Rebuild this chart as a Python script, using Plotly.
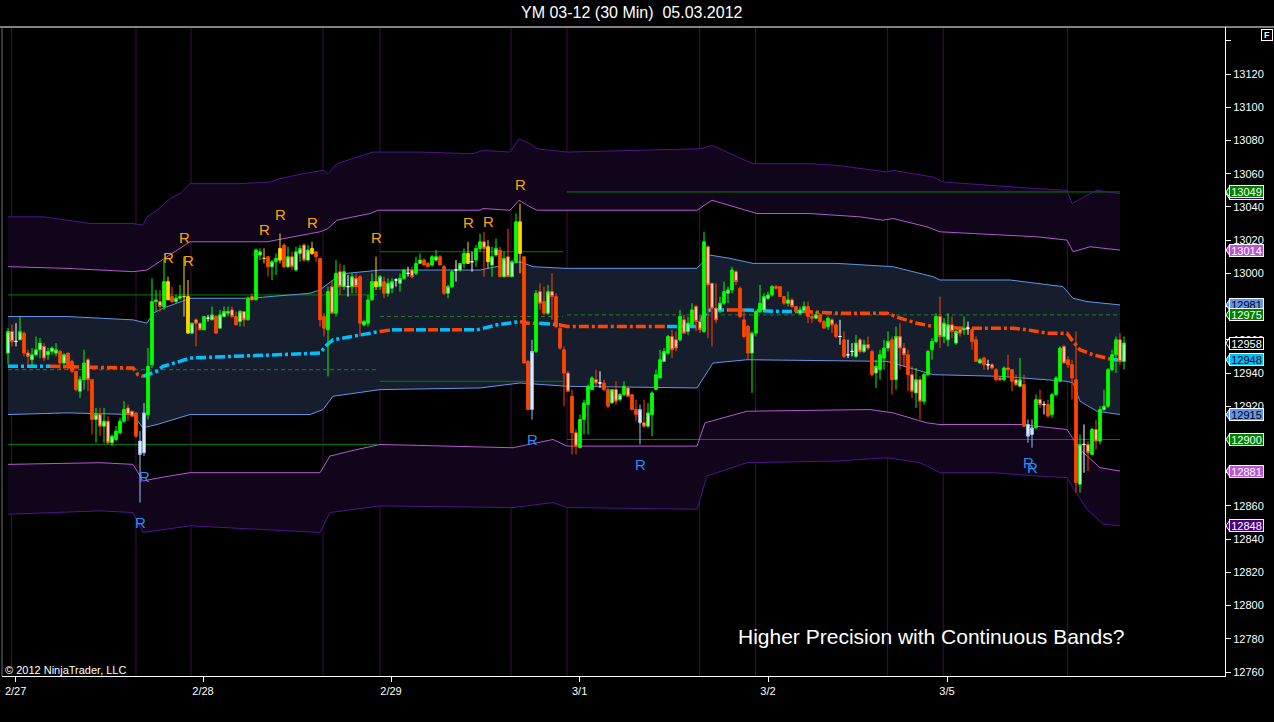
import plotly.graph_objects as go

# YM 03-12, 30 minute bars. Bar 0 is the last bar of 2/24, bar 279 the 15:00 bar of 3/5.
bar_open = [
    12952, 12965, 12959, 12960, 12964, 12952, 12948, 12951, 12954, 12956,
    12951, 12953, 12952, 12953, 12946, 12952, 12947, 12941, 12929, 12936,
    12948, 12936, 12912, 12915, 12908, 12911, 12898, 12900, 12904, 12911,
    12919, 12917, 12916, 12899, 12892, 12915, 12945, 12983, 12983, 12980,
    12995, 12986, 12983, 12985, 12986, 12986, 12964, 12972, 12970, 12966,
    12973, 12972, 12974, 12967, 12974, 12976, 12978, 12974, 12971, 12977,
    12972, 12986, 12984, 13011, 13009, 13010, 13004, 13007, 13008, 13017,
    13004, 13010, 13002, 13012, 13017, 13008, 13012, 13013, 13009, 12974,
    12966, 12992, 12976, 13001, 12992, 12992, 12992, 12997, 12998, 12969,
    12970, 12984, 12995, 12992, 12995, 12988, 12991, 12996, 12994, 12997,
    13000, 13002, 13000, 13006, 13008, 13006, 13005, 13008, 13010, 13004,
    12988, 12992, 13002, 13002, 13006, 13006, 13007, 13008, 13015, 13019,
    13016, 13005, 13011, 13014, 12998, 13010, 12998, 13007, 13031, 13010,
    12947, 12918, 12953, 12989, 12983, 12976, 12989, 12986, 12967, 12954,
    12940, 12926, 12904, 12895, 12912, 12921, 12930, 12936, 12934, 12934,
    12930, 12922, 12930, 12924, 12927, 12931, 12927, 12918, 12910, 12910,
    12908, 12915, 12930, 12937, 12947, 12952, 12962, 12960, 12960, 12972,
    12965, 12969, 12980, 12971, 12965, 13016, 12994, 12979, 12978, 12982,
    12988, 12990, 13001, 12991, 12972, 12968, 12952, 12964, 12977, 12978,
    12985, 12987, 12992, 12992, 12986, 12982, 12984, 12980, 12976, 12978,
    12980, 12974, 12973, 12975, 12971, 12968, 12972, 12969, 12962, 12960,
    12951, 12953, 12950, 12960, 12953, 12957, 12953, 12940, 12942, 12949,
    12955, 12960, 12936, 12962, 12955, 12951, 12939, 12928, 12936, 12923,
    12939, 12954, 12959, 12974, 12962, 12960, 12969, 12958, 12966, 12966,
    12967, 12966, 12960, 12946, 12949, 12945, 12945, 12942, 12937, 12936,
    12943, 12942, 12936, 12932, 12933, 12909, 12903, 12907, 12924, 12921,
    12921, 12915, 12927, 12935, 12956, 12948, 12945, 12936, 12873, 12897,
    12897, 12891, 12906, 12899, 12918, 12920, 12942, 12951, 12960, 12947,
]
bar_high = [
    12967, 12969, 12970, 12974, 12965, 12954, 12955, 12962, 12961, 12958,
    12955, 12956, 12958, 12954, 12952, 12952, 12948, 12941, 12938, 12954,
    12949, 12936, 12919, 12919, 12919, 12914, 12903, 12908, 12913, 12923,
    12921, 12917, 12916, 12905, 12922, 12955, 12997, 12990, 12990, 13008,
    12998, 12992, 12987, 12993, 13010, 12996, 12970, 12973, 12970, 12974,
    12975, 12980, 12975, 12978, 12980, 12980, 12980, 12977, 12978, 12977,
    12986, 12988, 13015, 13015, 13015, 13010, 13008, 13012, 13024, 13018,
    13016, 13013, 13016, 13017, 13018, 13017, 13019, 13013, 13009, 12976,
    12992, 12996, 13008, 13006, 13005, 12999, 13000, 13000, 12999, 12972,
    12987, 13000, 13010, 12999, 12998, 12997, 12997, 12997, 13000, 13002,
    13004, 13004, 13010, 13012, 13009, 13007, 13011, 13014, 13011, 13005,
    12993, 13002, 13008, 13006, 13015, 13019, 13013, 13017, 13024, 13025,
    13020, 13016, 13021, 13016, 13013, 13027, 13008, 13036, 13042, 13010,
    12948, 12960, 12990, 12994, 12992, 12993, 13000, 12988, 12970, 12956,
    12941, 12930, 12906, 12915, 12924, 12933, 12938, 12942, 12941, 12936,
    12931, 12930, 12935, 12928, 12935, 12932, 12927, 12924, 12921, 12924,
    12922, 12929, 12942, 12954, 12955, 12963, 12966, 12965, 12978, 12975,
    12974, 12982, 12981, 12975, 13025, 13017, 12994, 12994, 12986, 12995,
    12992, 13004, 13002, 12992, 12978, 12969, 12965, 12978, 12993, 12988,
    12989, 12993, 12993, 12992, 12986, 12989, 12985, 12980, 12980, 12983,
    12983, 12976, 12977, 12976, 12972, 12974, 12973, 12970, 12972, 12965,
    12960, 12958, 12963, 12961, 12960, 12962, 12954, 12948, 12954, 12960,
    12965, 12962, 12968, 12970, 12958, 12954, 12944, 12943, 12938, 12940,
    12954, 12961, 12976, 12986, 12973, 12976, 12974, 12966, 12968, 12974,
    12971, 12967, 12962, 12949, 12950, 12948, 12946, 12943, 12938, 12944,
    12951, 12942, 12939, 12949, 12939, 12912, 12912, 12927, 12930, 12923,
    12924, 12928, 12938, 12956, 12957, 12950, 12948, 12965, 12903, 12909,
    12899, 12907, 12912, 12920, 12930, 12943, 12954, 12962, 12964, 12962,
]
bar_low = [
    12945, 12956, 12956, 12960, 12950, 12945, 12944, 12950, 12949, 12947,
    12948, 12951, 12950, 12942, 12945, 12942, 12940, 12929, 12925, 12930,
    12929, 12903, 12898, 12902, 12898, 12897, 12896, 12899, 12903, 12910,
    12911, 12914, 12901, 12862, 12890, 12912, 12943, 12977, 12977, 12978,
    12984, 12982, 12982, 12984, 12974, 12964, 12964, 12956, 12966, 12966,
    12971, 12972, 12964, 12967, 12974, 12974, 12973, 12969, 12968, 12968,
    12972, 12984, 12984, 13008, 13006, 12998, 12996, 12999, 13006, 13003,
    13003, 13002, 13001, 13007, 13007, 13007, 13011, 13007, 12968, 12962,
    12938, 12976, 12974, 12987, 12990, 12986, 12988, 12988, 12962, 12968,
    12968, 12984, 12990, 12990, 12985, 12986, 12988, 12992, 12989, 12996,
    12998, 12997, 12999, 13006, 13005, 13004, 13004, 13007, 13005, 12987,
    12985, 12991, 12995, 13001, 13003, 13006, 13001, 13004, 13013, 12998,
    13003, 12998, 13010, 12998, 12998, 12998, 12998, 13006, 13000, 12946,
    12918, 12912, 12952, 12978, 12975, 12975, 12972, 12967, 12954, 12920,
    12929, 12891, 12891, 12895, 12903, 12903, 12930, 12932, 12931, 12929,
    12919, 12922, 12921, 12923, 12926, 12926, 12918, 12911, 12897, 12907,
    12907, 12902, 12930, 12937, 12947, 12951, 12949, 12953, 12959, 12964,
    12963, 12968, 12965, 12964, 12964, 12961, 12956, 12970, 12976, 12981,
    12982, 12988, 12993, 12973, 12961, 12948, 12928, 12962, 12976, 12977,
    12984, 12986, 12990, 12986, 12981, 12980, 12979, 12976, 12975, 12977,
    12970, 12970, 12973, 12970, 12967, 12966, 12964, 12961, 12957, 12949,
    12949, 12950, 12949, 12952, 12952, 12954, 12938, 12931, 12936, 12942,
    12953, 12927, 12930, 12942, 12944, 12929, 12925, 12919, 12912, 12921,
    12938, 12948, 12958, 12955, 12958, 12956, 12961, 12957, 12962, 12963,
    12963, 12954, 12947, 12946, 12942, 12942, 12942, 12935, 12935, 12935,
    12937, 12929, 12932, 12932, 12908, 12898, 12895, 12906, 12919, 12915,
    12914, 12913, 12926, 12935, 12946, 12943, 12924, 12868, 12868, 12880,
    12881, 12891, 12894, 12897, 12917, 12919, 12941, 12940, 12945, 12942,
]
bar_close = [
    12965, 12959, 12959, 12965, 12952, 12950, 12951, 12954, 12958, 12949,
    12953, 12955, 12954, 12946, 12951, 12943, 12941, 12930, 12936, 12946,
    12936, 12912, 12915, 12908, 12911, 12898, 12902, 12905, 12911, 12918,
    12915, 12914, 12902, 12891, 12916, 12944, 12983, 12984, 12980, 12995,
    12984, 12983, 12985, 12986, 12986, 12964, 12970, 12970, 12966, 12974,
    12973, 12975, 12964, 12975, 12977, 12977, 12974, 12969, 12977, 12972,
    12985, 12984, 13014, 13013, 13009, 13004, 13007, 13009, 13015, 13004,
    13010, 13004, 13013, 13015, 13008, 13014, 13015, 13010, 12972, 12967,
    12989, 12976, 13000, 12992, 13001, 12992, 12998, 12992, 12970, 12971,
    12984, 12995, 12992, 12998, 12988, 12994, 12995, 12996, 12997, 13002,
    13000, 12998, 13006, 13008, 13005, 13004, 13010, 13010, 13005, 12988,
    12992, 13001, 13002, 13006, 13012, 13012, 13007, 13015, 13019, 13015,
    13007, 13010, 13015, 12998, 13009, 12998, 13007, 13031, 13012, 12946,
    12918, 12953, 12988, 12982, 12976, 12989, 12986, 12968, 12955, 12940,
    12929, 12904, 12896, 12912, 12922, 12932, 12937, 12934, 12934, 12930,
    12920, 12930, 12923, 12927, 12932, 12926, 12918, 12915, 12918, 12908,
    12916, 12928, 12939, 12948, 12953, 12962, 12954, 12955, 12974, 12964,
    12970, 12978, 12971, 12966, 13019, 12993, 12979, 12972, 12982, 12989,
    12990, 13002, 12995, 12974, 12962, 12952, 12964, 12977, 12982, 12986,
    12987, 12992, 12991, 12986, 12982, 12984, 12980, 12977, 12978, 12980,
    12974, 12973, 12975, 12971, 12967, 12973, 12969, 12962, 12962, 12950,
    12951, 12953, 12958, 12953, 12957, 12955, 12939, 12944, 12951, 12955,
    12959, 12936, 12962, 12955, 12951, 12939, 12929, 12936, 12923, 12939,
    12953, 12959, 12974, 12962, 12970, 12969, 12965, 12965, 12964, 12967,
    12967, 12959, 12947, 12948, 12945, 12945, 12943, 12936, 12936, 12943,
    12942, 12935, 12933, 12936, 12908, 12902, 12907, 12924, 12921, 12921,
    12914, 12927, 12937, 12955, 12946, 12945, 12937, 12874, 12897, 12897,
    12892, 12906, 12899, 12918, 12920, 12942, 12951, 12960, 12947, 12958,
]

# bars flagged by the band indicator (drawn yellow / light blue with an "R")
signal_hi_bars = [40, 44, 45, 64, 68, 76, 92, 115, 120, 128]
signal_lo_bars = [33, 34, 131, 158, 255, 256]

# continuous deviation bands (vertices, bar index / price)
outer_hi_x = [0, 9, 20.5, 31.25, 33.75, 34.75, 37.25, 40.5, 43, 45.5, 58, 65.5, 68, 73.75,
              78.75, 80, 82.25, 87.25, 91.25, 103, 116.25, 118.75, 125.5, 127.75, 130.5,
              132.25, 139.75, 173, 176, 186.25, 200.5, 207.25, 219.75, 221.25, 231.25,
              233.75, 257.25, 264.75, 266, 269.75, 272.25, 278]
outer_hi = [13034, 13034, 13030, 13030, 13029, 13034, 13038, 13045, 13048, 13054, 13054,
            13055, 13057, 13060, 13062, 13060, 13066, 13070, 13073, 13073, 13072, 13074,
            13073, 13081, 13078, 13075, 13073, 13075, 13077, 13066, 13066, 13065, 13061,
            13062, 13058, 13055, 13051, 13050, 13042, 13047, 13050, 13048]
mid_hi_x = [0, 14.75, 31.25, 34.75, 39.75, 45.5, 64.75, 78, 80, 82.25, 90.5, 92.5, 118,
            118.75, 125.5, 127.75, 130.5, 132.25, 172.25, 176, 187.25, 200.5, 213, 218.75,
            221.25, 229.75, 233, 257.25, 264.75, 266.25, 270.5, 278]
mid_hi = [13004, 13003, 13001, 13002, 13010, 13019, 13019, 13025, 13027, 13032, 13036,
          13038, 13038, 13039, 13038, 13044, 13040, 13038, 13038, 13044, 13036, 13036,
          13034, 13032, 13033, 13028, 13025, 13022, 13020, 13013, 13016, 13014]
inner_hi_x = [0, 14.75, 31.25, 34.75, 36.25, 38.75, 45.5, 60.5, 75.5, 78, 81.25, 84.75, 93,
              118, 128, 131.25, 139.75, 172.25, 175.5, 180.5, 186.25, 207.25, 221.25,
              231.25, 233, 250.5, 263.75, 266.25, 269.75, 278]
inner_hi = [12974, 12974, 12972, 12970, 12976, 12979, 12985, 12985, 12988, 12990, 12996,
            13000, 13002, 13002, 13007, 13004, 13003, 13003, 13011, 13009, 13006, 13006,
            13004, 12998, 12996, 12996, 12992, 12985, 12983, 12981]
inner_lo_x = [0, 14.75, 31.25, 33.75, 37.25, 45.5, 75.5, 78.75, 81.25, 93, 118, 128, 139.75,
              172.25, 176.25, 184.75, 219.75, 231.25, 248, 264.75, 266.25, 268, 272.25, 278]
inner_lo = [12915, 12916, 12915, 12907, 12909, 12915, 12915, 12918, 12926, 12930, 12931,
            12934, 12932, 12931, 12946, 12948, 12947, 12939, 12938, 12935, 12934, 12923,
            12917, 12915]
mid_lo_x = [0, 23, 31.25, 33.75, 38, 45.5, 78, 80.5, 85.5, 93, 126.25, 136.25, 139.75,
            172.25, 174.25, 184.75, 215.5, 221.25, 229.75, 233, 253, 264.75, 268, 273, 278]
mid_lo = [12885, 12886, 12885, 12875, 12877, 12880, 12880, 12890, 12893, 12897, 12895,
          12900, 12896, 12896, 12910, 12917, 12918, 12916, 12910, 12909, 12909, 12906,
          12894, 12883, 12881]
outer_lo_x = [0, 23, 31.25, 33.75, 45.5, 78, 80.5, 93, 126.25, 136.25, 139.75, 172.25,
              174.75, 184.75, 207.25, 219.75, 228, 233, 246.25, 257.25, 264.75, 266.75,
              269.75, 273.75, 278]
outer_lo = [12855, 12857, 12856, 12844, 12848, 12844, 12856, 12860, 12859, 12862, 12859,
            12858, 12878, 12886, 12887, 12889, 12886, 12880, 12880, 12878, 12877, 12869,
            12858, 12849, 12848]

# volume weighted centre line; vwap_below = 1 while drawn in the "below" colour
vwap_x = [0, 10.5, 31.25, 32.5, 33.75, 37.25, 38.75, 43, 45.5, 56.25, 78, 79.75, 81.25, 93,
          96, 99, 102, 105, 108, 111, 114, 117.25, 122.25, 128, 129.75, 133, 138, 139.75,
          164.75, 173, 173.75, 175.5, 180, 184, 193, 198.75, 207.25, 219.75, 223, 227.25,
          231.25, 238, 251.25, 254.75, 259.75, 264.75, 266.25, 268, 271.25, 276.25, 278.5]
vwap = [12944, 12944, 12943, 12939, 12938, 12941, 12944, 12947, 12949, 12950, 12952, 12957,
        12960, 12965, 12966, 12966, 12966, 12966, 12966, 12966, 12966, 12966, 12969, 12971,
        12970, 12970, 12969, 12968, 12968, 12968, 12974, 12978, 12978, 12978, 12977, 12977,
        12976, 12976, 12973, 12970, 12968, 12967, 12967, 12966, 12964, 12964, 12959, 12954,
        12951, 12948, 12948]
vwap_below = [0, 1, 1, 1, 0, 0, 0, 0, 0, 0, 0, 0, 0, 1, 0, 1, 0, 1, 0, 1,
              0, 0, 0, 1, 1, 0, 1, 1, 0, 0, 0, 0, 1, 0, 0, 1, 1, 1, 1, 1,
              1, 1, 1, 1, 1, 1, 1, 1, 1, 0]

# prior range levels: start bar, end bar, high, mid, low
level_start = [0, 93, 139.75]
level_end = [92.25, 138.75, 278]
level_high = [12987, 13013, 13049]
level_mid = [12942, 12974, 12975]
level_low = [12897, 12935, 12900]

# session breaks and date ticks (bar index)
session_lines = [0.85, 32.0, 45.75, 78.75, 93.0, 125.75, 139.75, 172.85, 186.9, 219.9,
                 233.8, 264.85]
day_ticks = [1.9, 48.75, 95.75, 142.9, 190.0, 234.75]
day_labels = ["2/27", "2/28", "2/29", "3/1", "3/2", "3/5"]

price_ticks = list(range(12760, 13141, 20))

Y0, Y1 = 12757.6, 13148.3
FONT = "Arial, Liberation Sans, sans-serif"
UP = "#00ff00"
DN = "#ff4500"
PURPLE_FILL = "#10051b"
BLUE_FILL = "#161e2e"
OUTER_C = "#4e148c"
MID_C = "#ba55d3"
INNER_C = "#6495ed"

shapes = []


def path(xs, ys, closed=False):
    p = "M " + " L ".join(f"{x},{y}" for x, y in zip(xs, ys))
    return p + (" Z" if closed else "")


def band_fill(xa, ya, xb, yb, color):
    shapes.append(dict(type="path", xref="x", yref="y", layer="below",
                       path=path(xa + xb[::-1], ya + yb[::-1], closed=True),
                       fillcolor=color, line=dict(width=0)))


band_fill(outer_hi_x, outer_hi, mid_hi_x, mid_hi, PURPLE_FILL)
band_fill(inner_hi_x, inner_hi, inner_lo_x, inner_lo, BLUE_FILL)
band_fill(mid_lo_x, mid_lo, outer_lo_x, outer_lo, PURPLE_FILL)

# session break lines
for s in session_lines:
    shapes.append(dict(type="line", xref="x", yref="paper", x0=s, x1=s, y0=0, y1=1,
                       layer="below", line=dict(color="#3c0f46", width=1)))

# prior range levels
for vals, dash, col in [(level_high, "solid", "#008000"), (level_low, "solid", "#008000"),
                        (level_mid, "4px,3px", "#2a7a2a")]:
    for a, b, v in zip(level_start, level_end, vals):
        shapes.append(dict(type="line", xref="x", yref="y", x0=a, x1=b, y0=v, y1=v,
                           layer="below", line=dict(color=col, width=1, dash=dash)))

# band lines
for xs, ys, col in [(outer_hi_x, outer_hi, OUTER_C), (mid_hi_x, mid_hi, MID_C),
                    (inner_hi_x, inner_hi, INNER_C), (inner_lo_x, inner_lo, INNER_C),
                    (mid_lo_x, mid_lo, MID_C), (outer_lo_x, outer_lo, OUTER_C)]:
    shapes.append(dict(type="path", xref="x", yref="y", layer="below", path=path(xs, ys),
                       line=dict(color=col, width=1)))

# vwap, split into runs of one colour
run_x, run_y, run_flag = [], [], None
for k in range(len(vwap_x) - 1):
    f = vwap_below[k]
    if f != run_flag and run_x:
        shapes.append(dict(type="path", xref="x", yref="y", layer="below",
                           path=path(run_x, run_y),
                           line=dict(color="#ff4500" if run_flag else "#00bfff", width=3.5,
                                     dash="10px,3px,3px,3px")))
        run_x, run_y = [], []
    if not run_x:
        run_x, run_y = [vwap_x[k]], [vwap[k]]
    run_x.append(vwap_x[k + 1])
    run_y.append(vwap[k + 1])
    run_flag = f
shapes.append(dict(type="path", xref="x", yref="y", layer="below", path=path(run_x, run_y),
                   line=dict(color="#ff4500" if run_flag else "#00bfff", width=3.5,
                             dash="10px,3px,3px,3px")))

fig = go.Figure()


# candles, split by how they are painted
def kind(i):
    if i in signal_hi_bars:
        return "yellow"
    if i in signal_lo_bars:
        return "blue"
    o, c = bar_open[i], bar_close[i]
    if o == c:
        return "doji"
    if c > o:
        return "up_solid" if i > 0 and c > bar_high[i - 1] else "up_hollow"
    return "dn_solid" if i > 0 and c < bar_low[i - 1] else "dn_hollow"


styles = {
    "up_hollow": (UP, "#e6ffe6"),
    "dn_hollow": (DN, "#ffe6dc"),
    "up_solid": (UP, UP),
    "dn_solid": (DN, DN),
    "yellow": ("#ffd700", "#ffd700"),
    "blue": ("#9fc2ee", "#e8f0ff"),
    "doji": ("#ffffff", "#ffffff"),
}
for k, (lc, fc) in styles.items():
    idx = [i for i in range(len(bar_close)) if kind(i) == k]
    side = dict(line=dict(color=lc, width=1), fillcolor=fc)
    fig.add_trace(go.Candlestick(
        x=idx,
        open=[bar_open[i] for i in idx], high=[bar_high[i] for i in idx],
        low=[bar_low[i] for i in idx], close=[bar_close[i] for i in idx],
        increasing=side, decreasing=side, whiskerwidth=0, hoverinfo="skip"))

annotations = []
for i in signal_hi_bars:
    annotations.append(dict(x=i, y=bar_high[i], text="R", showarrow=False, yshift=19,
                            yanchor="middle",
                            font=dict(family=FONT, size=15, color="#ffa500")))
for i in signal_lo_bars:
    annotations.append(dict(x=i, y=bar_low[i], text="R", showarrow=False, yshift=-20,
                            yanchor="middle",
                            font=dict(family=FONT, size=15, color="#1e90ff")))

# last-value tags on the price axis
tags = [
    (outer_hi[-1], "#4b0082", "white"),
    (level_high[-1], "#008000", "white"),
    (mid_hi[-1], "#ba55d3", "white"),
    (inner_hi[-1], "#6495ed", "black"),
    (level_mid[-1], "#008000", "white"),
    (bar_close[-1], "black", "white"),
    (vwap[-1], "#00bfff", "black"),
    (inner_lo[-1], "#6495ed", "black"),
    (level_low[-1], "#008000", "white"),
    (mid_lo[-1], "#ba55d3", "white"),
    (outer_lo[-1], "#4b0082", "white"),
]
PW = 1223.0
PH = 649.0
for v, bg, fg in tags:
    yp = (v - Y0) / (Y1 - Y0)
    shapes.append(dict(type="path", xref="paper", yref="paper",
                       path=f"M {1 + 1 / PW} {yp} L {1 + 5 / PW} {yp + 6 / PH} "
                            f"L {1 + 5 / PW} {yp - 6 / PH} Z",
                       fillcolor=bg, line=dict(color="white", width=1)))
    annotations.append(dict(x=1, xref="paper", xanchor="left", xshift=4, y=v, yref="y",
                            yanchor="middle", text=str(v), showarrow=False, bgcolor=bg,
                            bordercolor="white", borderwidth=1, borderpad=0, width=33,
                            height=11, font=dict(family=FONT, size=11, color=fg)))

annotations += [
    dict(x=(632 - 2) / PW, y=1 + 14 / PH, xref="paper", yref="paper", showarrow=False,
         xanchor="center", yanchor="middle", text="YM 03-12 (30 Min)  05.03.2012",
         font=dict(family=FONT, size=16, color="white")),
    dict(x=0.0008, y=6 / PH, xref="paper", yref="paper", xanchor="left", yanchor="middle",
         showarrow=False, text="\u00a9 2012 NinjaTrader, LLC",
         font=dict(family=FONT, size=11, color="white")),
    dict(x=(931 - 2) / PW, y=40 / PH, xref="paper", yref="paper", showarrow=False,
         xanchor="center", yanchor="middle", text="Higher Precision with Continuous Bands?",
         font=dict(family=FONT, size=21, color="white")),
    dict(x=(1266.5 - 2) / PW, y=1 - 8.5 / PH, xref="paper", yref="paper", showarrow=False,
         xanchor="center", yanchor="middle", text="<b>F</b>", bgcolor="black",
         bordercolor="white", borderwidth=1, borderpad=0, width=10, height=10,
         font=dict(family=FONT, size=9, color="white")),
]

shapes += [
    dict(type="line", xref="paper", yref="paper", x0=-0.01, x1=1.05, y0=1, y1=1,
         line=dict(color="white", width=1)),
    dict(type="line", xref="paper", yref="paper", x0=0, x1=0, y0=0, y1=1,
         line=dict(color="#707070", width=1)),
]

fig.update_layout(
    width=1274, height=722,
    margin=dict(l=2, r=49, t=27, b=46),
    paper_bgcolor="black", plot_bgcolor="black",
    showlegend=False,
    boxgap=0.3, boxgroupgap=0.05,
    annotations=annotations, shapes=shapes,
    xaxis=dict(range=[-1.5, 304.25], tickvals=day_ticks, ticktext=day_labels,
               ticks="outside", ticklen=5, tickcolor="white", showline=True,
               linecolor="white", linewidth=1, showgrid=False, zeroline=False,
               rangeslider=dict(visible=False),
               tickfont=dict(family=FONT, size=11, color="white")),
    yaxis=dict(range=[Y0, Y1], side="right", tickvals=price_ticks,
               ticktext=[str(t) if t < 13140 else "" for t in price_ticks],
               ticks="outside", ticklen=5, tickcolor="white", showline=True,
               linecolor="white", linewidth=1, showgrid=False, zeroline=False,
               tickfont=dict(family=FONT, size=11, color="white")),
)

fig.write_html("out.html", config={"displayModeBar": False},
               post_script="document.body.style.margin='0px';")
